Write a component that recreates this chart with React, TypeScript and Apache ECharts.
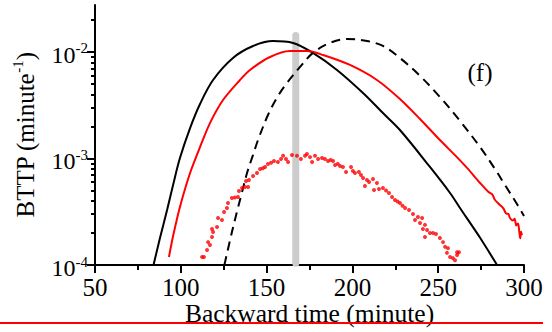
import React, { useEffect, useRef } from "react";
import * as echarts from "echarts";

// ---- data (minutes, minute^-1) ----
const blackX = [84.1, 87.9, 92.0, 95.5, 99.5, 105.4, 111.2, 118.8, 130.4, 142.1, 153.7, 165.4, 177.0, 191.0, 206.2, 217.8, 227.7, 245.2, 256.9, 262.7, 267.4, 274.4, 284.3];
const blackY = [1.0e-4, 1.8e-4, 3.28e-4, 5.64e-4, 1.01e-3, 1.93e-3, 3.25e-3, 5.46e-3, 8.79e-3, 1.138e-2, 1.267e-2, 1.216e-2, 9.8e-3, 6.78e-3, 4.12e-3, 2.67e-3, 1.85e-3, 8.32e-4, 4.74e-4, 3.43e-4, 2.65e-4, 1.8e-4, 1.0e-4];

const redX = [93.1, 95.5, 99.5, 105.4, 111.2, 117.0, 124.6, 134.5, 140.3, 152.0, 163.6, 173.5, 182.9, 198.6, 214.3, 227.7, 239.4, 251.0, 260.9, 266.8, 274.4, 279.0, 281.5, 283.0, 286.0, 288.0, 289.5, 291.0, 291.8, 293.5, 294.5, 295.5, 296.5, 297.2, 297.8, 298.3, 298.8];
const redY = [1.19e-4, 1.87e-4, 3.51e-4, 7.31e-4, 1.28e-3, 2.15e-3, 3.54e-3, 5.46e-3, 6.78e-3, 8.97e-3, 1.02e-2, 1.02e-2, 9.37e-3, 7.55e-3, 5.46e-3, 3.62e-3, 2.35e-3, 1.49e-3, 1.03e-3, 8.15e-4, 5.89e-4, 4.9e-4, 4.6e-4, 4.1e-4, 3.66e-4, 3.4e-4, 3.05e-4, 3.0e-4, 2.76e-4, 2.62e-4, 2.72e-4, 2.35e-4, 2.45e-4, 2.1e-4, 1.78e-4, 2.05e-4, 1.9e-4];

const dashX = [125.4, 129.8, 132.7, 135.7, 138.6, 142.1, 145.0, 150.8, 156.6, 161.9, 169.5, 177.0, 186.9, 196.9, 208.5, 217.8, 227.7, 239.4, 251.0, 262.7, 274.4, 283.1, 288.9, 295.9, 300.0];
const dashY = [1.0e-4, 2.04e-4, 3.15e-4, 4.84e-4, 7.31e-4, 1.08e-3, 1.49e-3, 2.56e-3, 3.86e-3, 5.12e-3, 7.23e-3, 9.8e-3, 1.216e-2, 1.325e-2, 1.267e-2, 1.138e-2, 8.79e-3, 5.96e-3, 3.78e-3, 2.25e-3, 1.28e-3, 7.96e-4, 5.64e-4, 3.74e-4, 2.88e-4];

const dotX = [112.4, 113.5, 115.3, 115.9, 117.0, 118.2, 118.8, 118.2, 121.1, 121.7, 124.0, 125.2, 126.9, 127.5, 129.8, 131.5, 133.3, 133.9, 135.7, 137.4, 139.2, 138.0, 139.7, 142.1, 144.4, 146.2, 147.8, 149.1, 150.8, 152.6, 154.3, 156.6, 158.4, 159.6, 161.3, 162.5, 164.8, 167.7, 170.0, 172.4, 173.5, 175.3, 176.5, 178.2, 180.0, 182.3, 184.0, 185.8, 187.3, 188.7, 189.9, 191.5, 192.8, 194.5, 196.3, 199.2, 200.3, 201.5, 203.8, 205.0, 206.2, 207.3, 208.5, 209.7, 212.0, 212.6, 214.3, 215.5, 217.8, 219.6, 221.3, 223.1, 224.8, 226.3, 227.7, 229.2, 230.7, 233.0, 235.3, 236.5, 238.2, 239.4, 240.6, 241.1, 242.3, 242.3, 243.5, 245.2, 247.0, 248.7, 251.0, 252.8, 254.0, 255.7, 255.1, 256.9, 258.6, 259.8, 261.0, 262.1, 261.0];
const dotY = [1.19e-4, 1.19e-4, 1.38e-4, 1.64e-4, 1.54e-4, 1.83e-4, 2.04e-4, 2.18e-4, 2.27e-4, 2.76e-4, 2.65e-4, 3.15e-4, 3.43e-4, 3.82e-4, 4.26e-4, 4.3e-4, 4.35e-4, 4.95e-4, 5.28e-4, 5.4e-4, 5.4e-4, 6.15e-4, 6.28e-4, 6.85e-4, 7.31e-4, 7.97e-4, 8.1e-4, 8.32e-4, 8.88e-4, 9.1e-4, 9.47e-4, 9.27e-4, 9.89e-4, 1.06e-3, 9.89e-4, 9.27e-4, 1.08e-3, 1.06e-3, 9.89e-4, 1.06e-3, 1.1e-3, 1.03e-3, 9.27e-4, 1.06e-3, 9.89e-4, 1.01e-3, 9.89e-4, 9.47e-4, 9.7e-4, 9.47e-4, 8.69e-4, 8.9e-4, 8.5e-4, 8.32e-4, 7.47e-4, 8.32e-4, 7.63e-4, 7.31e-4, 7.47e-4, 7.0e-4, 6.56e-4, 5.52e-4, 6.28e-4, 6.02e-4, 6.42e-4, 5.06e-4, 5.89e-4, 5.17e-4, 5.28e-4, 5.0e-4, 4.74e-4, 4.35e-4, 4.08e-4, 3.95e-4, 3.82e-4, 3.6e-4, 3.43e-4, 3.28e-4, 3.01e-4, 2.65e-4, 2.82e-4, 2.48e-4, 2.76e-4, 2.18e-4, 2.38e-4, 1.83e-4, 2.13e-4, 2.0e-4, 2.0e-4, 1.95e-4, 1.79e-4, 1.64e-4, 1.48e-4, 1.44e-4, 1.3e-4, 1.19e-4, 1.16e-4, 1.11e-4, 1.24e-4, 1.32e-4, 1.32e-4];

const markerX = [167, 167];
const markerY = [1.04e-4, 1.43e-2];

const xMin = 50;
const xMax = 300;
const xInterval = 50;
const xTickValues = [50, 100, 150, 200, 250, 300];
const xTickLabels = ["50", "100", "150", "200", "250", "300"];
const yMin = 1e-4;
const yMax = 0.0276;
const yTickValues = [1e-4, 1e-3, 1e-2];
const yTickExps = ["-4", "-3", "-2"];
const yMinorValues = [2e-4, 3e-4, 4e-4, 5e-4, 6e-4, 7e-4, 8e-4, 9e-4, 2e-3, 3e-3, 4e-3, 5e-3, 6e-3, 7e-3, 8e-3, 9e-3, 2e-2];

const xTitle = "Backward time (minute)";
const panelLabel = "(f)";

const zip = (xs: number[], ys: number[]) => xs.map((x, i) => [x, ys[i]]);

export default function App() {
  const ref = useRef<HTMLDivElement>(null);
  useEffect(() => {
    if (!ref.current) return;
    const chart = echarts.init(ref.current, null, { renderer: "svg" });
    const font = "Liberation Serif";
    const black = "#000000";
    chart.setOption({
      animation: false,
      backgroundColor: "#ffffff",
      textStyle: { fontFamily: font, color: black },
      grid: { left: 95, right: 28, top: 5, bottom: 67 },
      xAxis: {
        type: "value",
        min: xMin,
        max: xMax,
        interval: xInterval,
        name: xTitle,
        nameLocation: "middle",
        nameGap: 35,
        nameTextStyle: { fontFamily: font, fontSize: 25.5, color: black },
        axisLine: { show: true, lineStyle: { color: black, width: 2 } },
        axisTick: { show: true, length: 8, lineStyle: { color: black, width: 2 } },
        minorTick: { show: true, splitNumber: 2, length: 5, lineStyle: { color: black, width: 2 } },
        axisLabel: { show: false },
        splitLine: { show: false },
        minorSplitLine: { show: false },
      },
      yAxis: [
        {
          type: "log",
          logBase: 10,
          min: yMin,
          max: yMax,
          name: "{a|BTTP (minute}{s|-1}{a|)}",
          nameLocation: "middle",
          nameGap: 57,
          nameTextStyle: {
            rich: {
              a: { fontFamily: font, fontSize: 25, color: black, verticalAlign: "bottom", lineHeight: 28 },
              s: { fontFamily: font, fontSize: 15, color: black, verticalAlign: "top", lineHeight: 15 },
            },
          },
          axisLine: { show: true, lineStyle: { color: black, width: 2 } },
          axisTick: { show: true, length: 8, customValues: yTickValues, lineStyle: { color: black, width: 2 } },
          axisLabel: { show: false },
          splitLine: { show: false },
        },
        {
          type: "log",
          logBase: 10,
          min: yMin,
          max: yMax,
          position: "left",
          axisLine: { show: false },
          axisTick: { show: true, length: 4, customValues: yMinorValues, lineStyle: { color: black, width: 2 } },
          axisLabel: { show: false },
          splitLine: { show: false },
        },
      ],
      series: [
        {
          type: "line",
          data: zip(markerX, markerY),
          symbol: "none",
          lineStyle: { color: "#cccccc", width: 7, cap: "round" },
          z: 1,
        },
        {
          type: "line",
          data: zip(blackX, blackY),
          symbol: "none",
          smooth: 0.35,
          lineStyle: { color: black, width: 2 },
          z: 3,
        },
        {
          type: "line",
          data: zip(redX, redY),
          symbol: "none",
          smooth: 0.3,
          lineStyle: { color: "#ff0000", width: 2 },
          z: 3,
        },
        {
          type: "line",
          data: zip(dashX, dashY),
          symbol: "none",
          smooth: 0.35,
          lineStyle: { color: black, width: 2, type: [9, 6] },
          z: 3,
        },
        {
          type: "scatter",
          data: zip(dotX, dotY),
          symbol: "circle",
          symbolSize: 4,
          itemStyle: { color: "#ff0000" },
          z: 4,
        },
        // x tick labels, placed through the axis scale
        {
          type: "custom",
          clip: false,
          silent: true,
          z: 5,
          data: xTickValues.map((v) => [v, yMin]),
          renderItem: (params: any, api: any) => {
            const p = api.coord([api.value(0), api.value(1)]);
            return {
              type: "text",
              x: p[0],
              y: p[1] + 22,
              style: {
                text: xTickLabels[params.dataIndex],
                fontFamily: font,
                fontSize: 25,
                fill: black,
                align: "center",
                verticalAlign: "middle",
              },
            };
          },
        },
        // y tick labels (10^n), placed through the axis scale
        {
          type: "custom",
          clip: false,
          silent: true,
          z: 5,
          data: yTickValues.map((v) => [xMin, v]),
          renderItem: (params: any, api: any) => {
            const p = api.coord([api.value(0), api.value(1)]);
            return {
              type: "text",
              x: p[0] - 7,
              y: p[1] + 2,
              style: {
                text: "{b|10}{s|" + yTickExps[params.dataIndex] + "}",
                fill: black,
                align: "right",
                verticalAlign: "middle",
                rich: {
                  b: { fontFamily: font, fontSize: 24, fill: black, verticalAlign: "bottom", lineHeight: 26 },
                  s: { fontFamily: font, fontSize: 15, fill: black, verticalAlign: "top", lineHeight: 15 },
                },
              },
            };
          },
        },
      ],
      graphic: [
        {
          type: "text",
          x: 480,
          y: 72,
          z: 10,
          style: {
            text: panelLabel,
            font: '25px "Liberation Serif"',
            fill: black,
            textAlign: "center",
            textVerticalAlign: "middle",
            align: "center",
            verticalAlign: "middle",
          },
        },
        {
          type: "line",
          z: 100,
          shape: { x1: 0, y1: 323, x2: 543, y2: 323 },
          style: { stroke: "#ff0000", lineWidth: 2 },
        },
      ],
    });
    return () => chart.dispose();
  }, []);
  return (
    <div
      ref={ref}
      style={{ position: "fixed", left: 0, top: 0, width: 552, height: 332 }}
    />
  );
}
